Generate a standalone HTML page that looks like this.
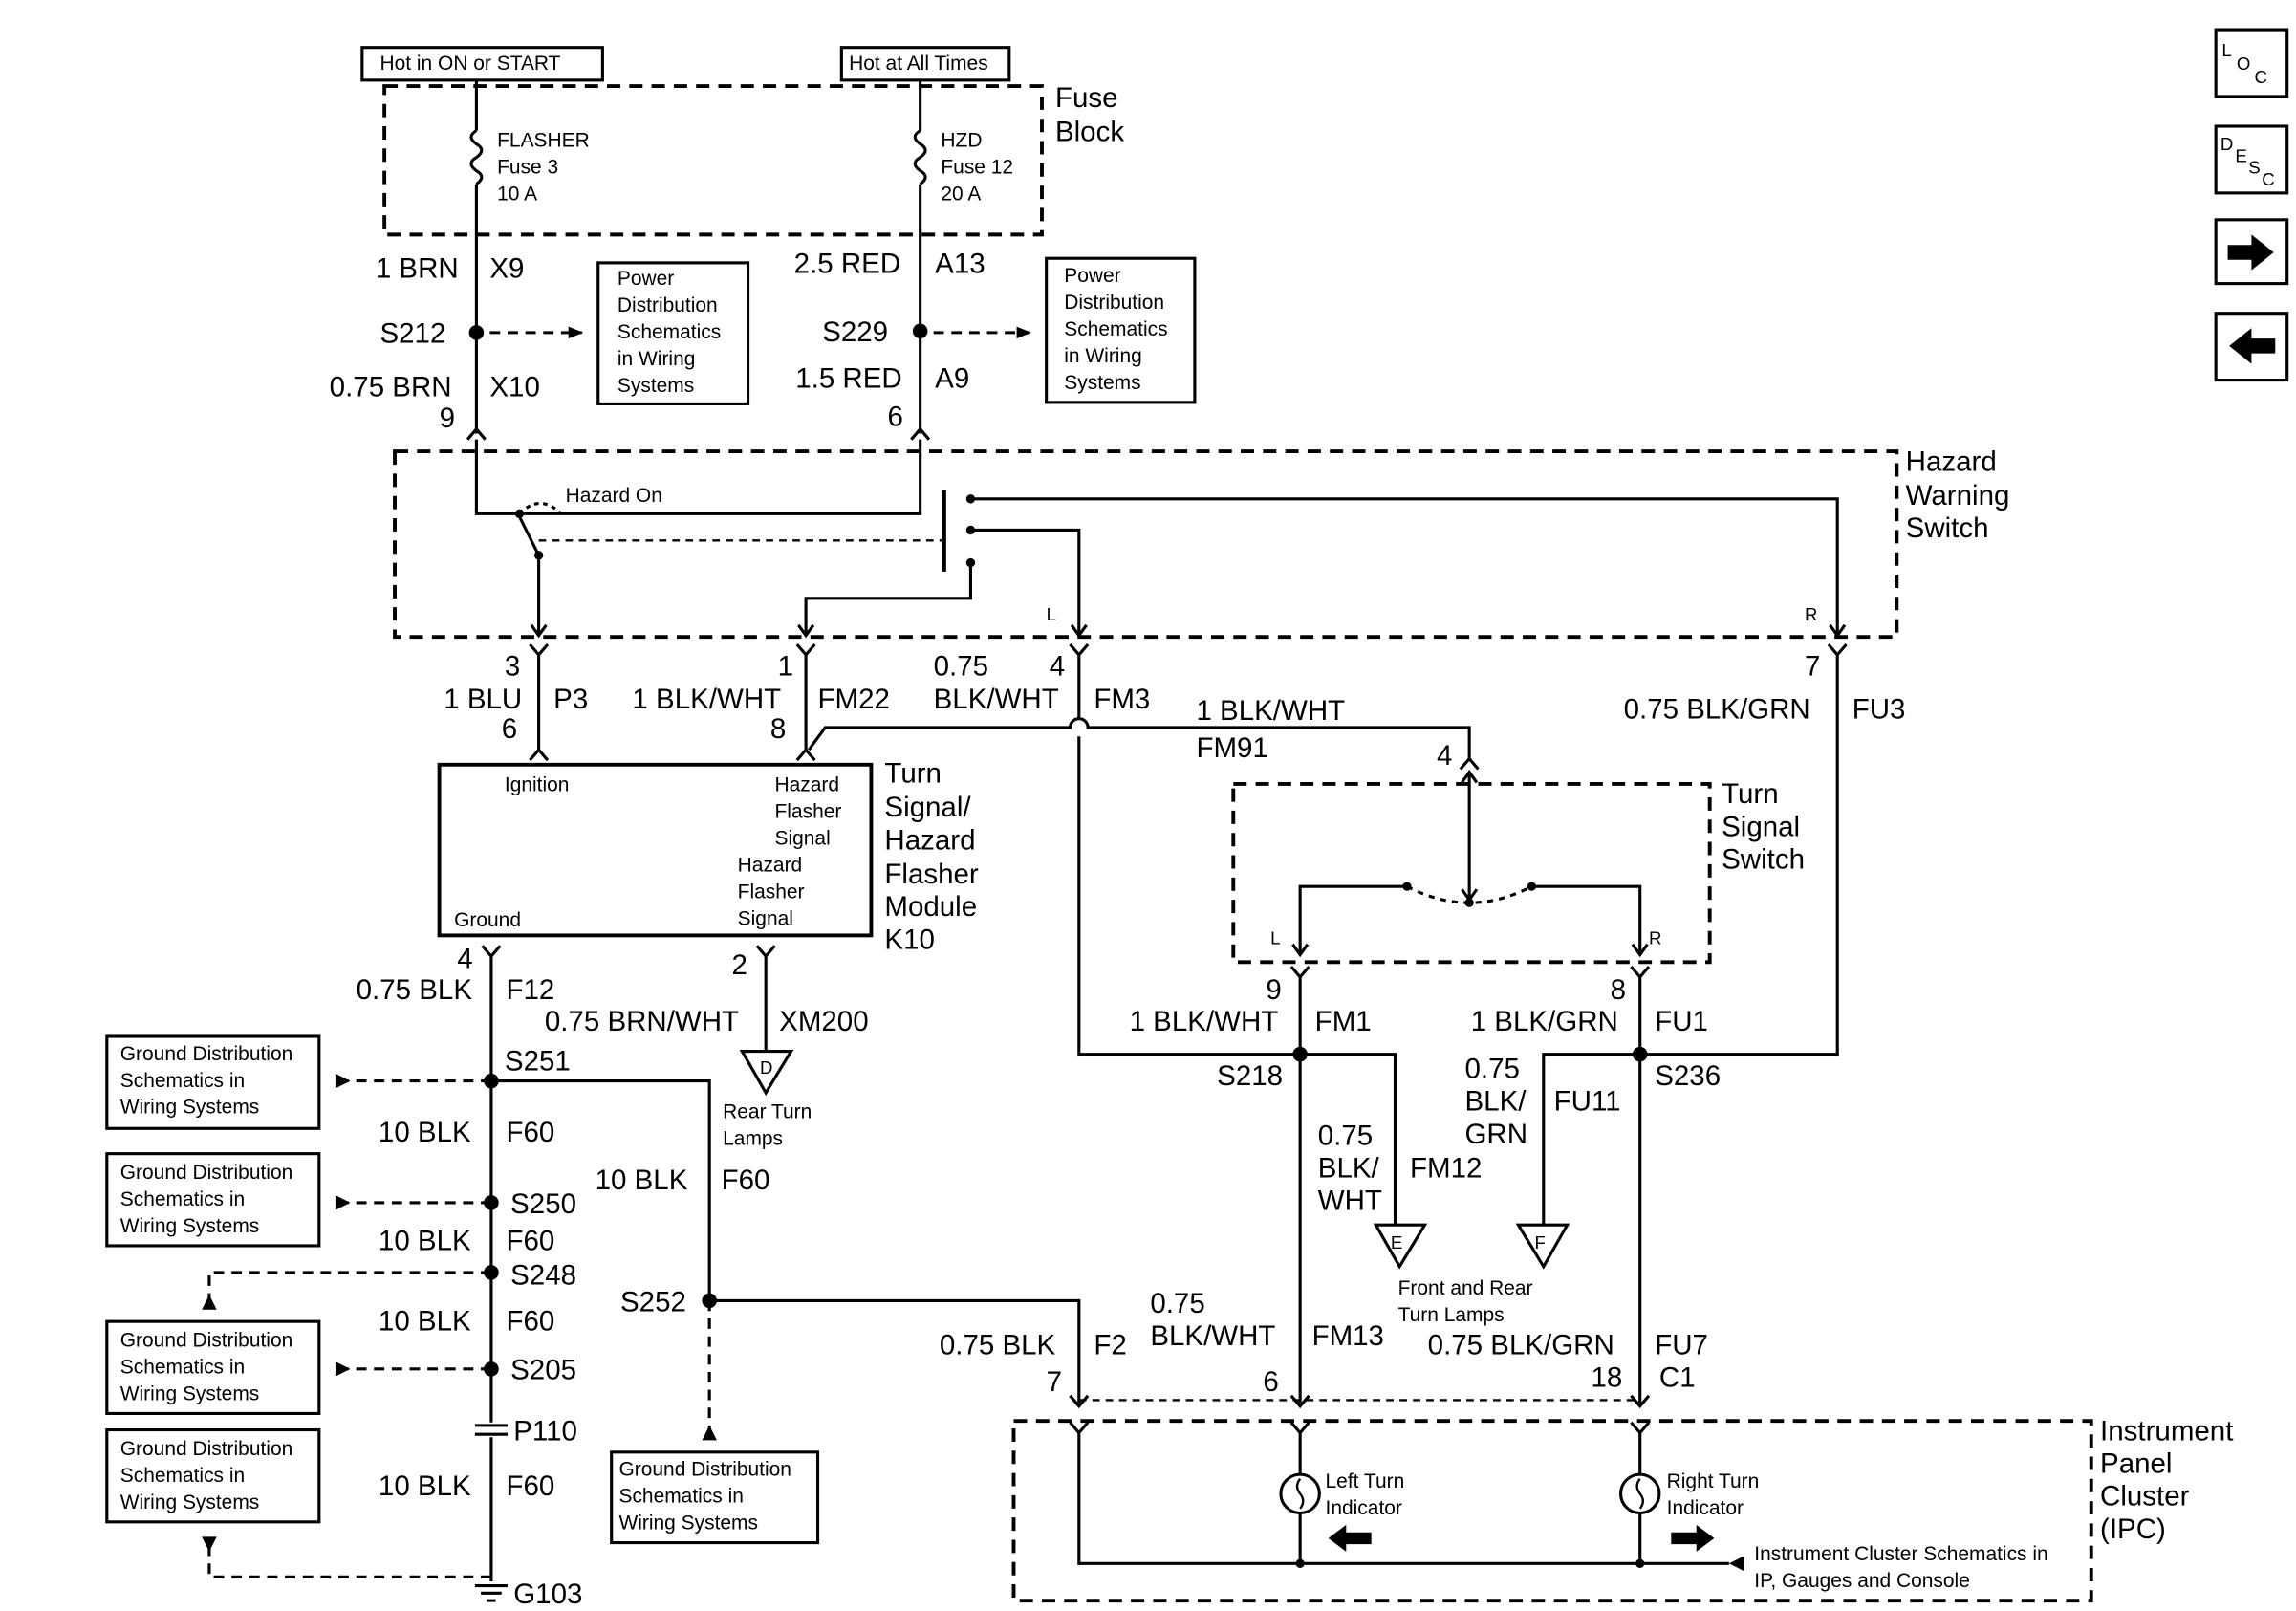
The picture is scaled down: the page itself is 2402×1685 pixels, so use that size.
<!DOCTYPE html>
<html><head><meta charset="utf-8"><style>
html,body{margin:0;padding:0;background:#fff;}
svg{display:block}
text{font-family:"Liberation Sans",sans-serif;fill:#000}
.b{font-size:19px}
.s{font-size:13.5px}
</style></head><body>
<svg width="2402" height="1685" viewBox="0 0 1547 1085" preserveAspectRatio="none" xmlns="http://www.w3.org/2000/svg">
<defs>
<marker id="ah" markerWidth="10" markerHeight="10" refX="9" refY="5" orient="auto" markerUnits="userSpaceOnUse"><path d="M0,1 L10,5 L0,9 Z" fill="#000"/></marker>
</defs>
<g fill="none" stroke="#000" stroke-width="2">
<rect x="244" y="32" width="162" height="22"/>
<rect x="567" y="32" width="113" height="22"/>
<rect x="259" y="58" width="443" height="100" stroke-dasharray="9,6" stroke-width="2.5"/>
<path d="M321,54 V88 M321,124 V292"/>
<path d="M321,88 q-7,4 0,9 q7,4 0,9 q-7,4 0,9 q7,4 0,9"/>
<path d="M620,54 V88 M620,124 V292"/>
<path d="M620,88 q-7,4 0,9 q7,4 0,9 q-7,4 0,9 q7,4 0,9"/>
<path d="M330,224 H392" stroke-dasharray="7,5" marker-end="url(#ah)"/>
<path d="M629,224 H694" stroke-dasharray="7,5" marker-end="url(#ah)"/>
<rect x="403" y="177" width="101" height="95"/>
<rect x="705" y="174" width="100" height="97"/>
<path d="M315,296 L321,289 L327,296"/><path d="M614,296 L620,289 L626,296"/>
<rect x="266" y="304" width="1012" height="125" stroke-dasharray="9,6" stroke-width="2.5"/>
<path d="M321,296 V346 H348 M353,346 H620 V296"/>
<path d="M350,346 q14,-14 28,0" stroke-dasharray="3,3"/>
<path d="M363,374 L350,348"/>
<path d="M363,364 H636" stroke-dasharray="5,4" stroke-width="1.5"/>
<path d="M636,330 V385" stroke-width="3"/>
<path d="M654,336 H1238 V428"/>
<path d="M654,357 H727 V428"/>
<path d="M654,379 V403 H543 V428"/>
<path d="M363,374 V428"/>
<path d="M358,421 L363,428 L368,421 M538,421 L543,428 L548,421 M722,421 L727,428 L732,421 M1233,421 L1238,428 L1243,421"/>
<path d="M357,434 L363,441 L369,434 M537,434 L543,441 L549,434 M721,434 L727,441 L733,434 M1232,434 L1238,441 L1244,434"/>
<path d="M363,441 V506 M357,512 L363,505 L369,512"/>
<path d="M543,441 V506 M537,512 L543,505 L549,512"/>
<path d="M545,505 L556,490 H721 a6,6 0 0 1 12,0 H990 V512"/>
<path d="M727,441 V484 M727,496 V710 H876"/>
<path d="M1238,441 V710 H1105"/>
<rect x="296" y="515" width="291" height="115" stroke-width="2.5"/>
<rect x="831" y="528" width="321" height="120" stroke-dasharray="9,6" stroke-width="2.5"/>
<path d="M984,518 L990,511 L996,518"/>
<path d="M990,520 V606 M985,527 L990,520 L995,527 M985,599 L990,606 L995,599"/>
<path d="M876,642 V597 H946 M1034,597 H1105 V642"/>
<path d="M948,597 q42,22 84,0" stroke-dasharray="4,4"/>
<path d="M871,636 L876,643 L881,636 M1100,636 L1105,643 L1110,636"/>
<path d="M870,651 L876,658 L882,651 M1099,651 L1105,658 L1111,651"/>
<path d="M876,658 V945 M1105,658 V945"/>
<path d="M876,710 H940 V825 M1105,710 H1040 V825"/>
<path d="M927,825 H960 L943,853 Z M1023,825 H1056 L1040,853 Z"/>
<path d="M727,943 H1105" stroke-dasharray="5,4" stroke-width="1.5"/>
<path d="M721,940 L727,947 L733,940 M870,940 L876,947 L882,940 M1099,940 L1105,947 L1111,940"/>
<rect x="683" y="957" width="726" height="121" stroke-dasharray="9,6" stroke-width="2.5"/>
<path d="M721,958 L727,965 L733,958 M870,958 L876,965 L882,958 M1099,958 L1105,965 L1111,958"/>
<path d="M727,965 V1053 H1165 M876,965 V993 M876,1019 V1053 M1105,965 V993 M1105,1019 V1053"/>
<circle cx="876" cy="1006" r="13"/><circle cx="1105" cy="1006" r="13"/>
<path d="M876,996 q-4,5 0,10 q4,5 0,10 M1105,996 q-4,5 0,10 q4,5 0,10" stroke-width="1.5"/>
<path d="M325,637 L331,644 L337,637 M510,637 L516,644 L522,637"/>
<path d="M331,644 V958 M331,968 V1065"/>
<path d="M516,644 V708 M500,708 H533 L516,736 Z"/>
<path d="M331,728 H478 V876 H727 V945"/>
<path d="M478,876 V965" stroke-dasharray="7,5"/>
<rect x="412" y="978" width="139" height="61"/>
<rect x="72" y="698" width="143" height="62"/>
<rect x="72" y="777" width="143" height="62"/>
<rect x="72" y="890" width="143" height="62"/>
<rect x="72" y="963" width="143" height="62"/>
<path d="M331,728 H226 M331,810 H226 M331,922 H226" stroke-dasharray="7,5"/>
<path d="M331,857 H141 V876 M331,1062 H141 V1040" stroke-dasharray="7,5"/>
<path d="M320,1068 H342 M324,1073 H338 M328,1078 H334"/>
<path d="M320,960 H342 M320,966 H342"/>
<rect x="1493" y="20" width="48" height="45"/>
<rect x="1493" y="85" width="48" height="45"/>
<rect x="1493" y="148" width="48" height="43"/>
<rect x="1493" y="211" width="48" height="45"/>
</g>
<g fill="#000">
<circle cx="321" cy="224" r="5"/><circle cx="620" cy="223" r="5"/>
<circle cx="350" cy="346" r="3"/><circle cx="363" cy="374" r="3"/>
<circle cx="654" cy="336" r="3"/><circle cx="654" cy="357" r="3"/><circle cx="654" cy="379" r="3"/>
<circle cx="948" cy="597" r="3"/><circle cx="1032" cy="597" r="3"/><circle cx="990" cy="608" r="3"/>
<circle cx="876" cy="710" r="5"/><circle cx="1105" cy="710" r="5"/>
<circle cx="876" cy="1053" r="3"/><circle cx="1105" cy="1053" r="3"/>
<circle cx="331" cy="728" r="5"/><circle cx="331" cy="810" r="5"/><circle cx="331" cy="857" r="5"/><circle cx="331" cy="922" r="5"/>
<circle cx="478" cy="876" r="5"/>
<path d="M226,723 L236,728 L226,733 Z M226,805 L236,810 L226,815 Z M226,917 L236,922 L226,927 Z"/>
<path d="M136,882 L141,872 L146,882 Z M136,1035 L141,1045 L146,1035 Z M473,970 L478,960 L483,970 Z"/>
<path d="M1165,1048 L1175,1053 L1165,1058 Z" transform="rotate(180 1170 1053)"/>
<path d="M895,1036 L907,1027 V1032 H924 V1040 H907 V1045 Z"/>
<path d="M1155,1036 L1143,1027 V1032 H1126 V1040 H1143 V1045 Z"/>
<path d="M1532,170 L1517,158 V165 H1501 V175 H1517 V182 Z"/>
<path d="M1502,233 L1517,221 V228 H1533 V238 H1517 V245 Z"/>
</g>
<g class="s">
<text x="256" y="47">Hot in ON or START</text>
<text x="572" y="47">Hot at All Times</text>
<text x="335" y="99">FLASHER</text><text x="335" y="117">Fuse 3</text><text x="335" y="135">10 A</text>
<text x="634" y="99">HZD</text><text x="634" y="117">Fuse 12</text><text x="634" y="135">20 A</text>
<text x="416" y="192">Power</text><text x="416" y="210">Distribution</text><text x="416" y="228">Schematics</text><text x="416" y="246">in Wiring</text><text x="416" y="264">Systems</text>
<text x="717" y="190">Power</text><text x="717" y="208">Distribution</text><text x="717" y="226">Schematics</text><text x="717" y="244">in Wiring</text><text x="717" y="262">Systems</text>
<text x="381" y="338">Hazard On</text>
<text x="705" y="418" font-size="12">L</text><text x="1216" y="418" font-size="12">R</text>
<text x="340" y="533">Ignition</text>
<text x="522" y="533">Hazard</text><text x="522" y="551">Flasher</text><text x="522" y="569">Signal</text>
<text x="497" y="587">Hazard</text><text x="497" y="605">Flasher</text><text x="497" y="623">Signal</text>
<text x="306" y="624">Ground</text>
<text x="856" y="636" font-size="12">L</text><text x="1111" y="636" font-size="12">R</text>
<text x="487" y="753">Rear Turn</text><text x="487" y="771">Lamps</text>
<text x="942" y="872">Front and Rear</text><text x="942" y="890">Turn Lamps</text>
<text x="893" y="1002">Left Turn</text><text x="893" y="1020">Indicator</text>
<text x="1123" y="1002">Right Turn</text><text x="1123" y="1020">Indicator</text>
<text x="1182" y="1051">Instrument Cluster Schematics in</text><text x="1182" y="1069">IP, Gauges and Console</text>
<text x="81" y="714">Ground Distribution</text><text x="81" y="732">Schematics in</text><text x="81" y="750">Wiring Systems</text>
<text x="81" y="794">Ground Distribution</text><text x="81" y="812">Schematics in</text><text x="81" y="830">Wiring Systems</text>
<text x="81" y="907">Ground Distribution</text><text x="81" y="925">Schematics in</text><text x="81" y="943">Wiring Systems</text>
<text x="81" y="980">Ground Distribution</text><text x="81" y="998">Schematics in</text><text x="81" y="1016">Wiring Systems</text>
<text x="417" y="994">Ground Distribution</text><text x="417" y="1012">Schematics in</text><text x="417" y="1030">Wiring Systems</text>
<text x="512" y="723" font-size="12">D</text><text x="937" y="841" font-size="12">E</text><text x="1034" y="841" font-size="12">F</text>
<text x="1497" y="38" font-size="12">L</text><text x="1507" y="47" font-size="12">O</text><text x="1519" y="56" font-size="12">C</text>
<text x="1496" y="101" font-size="12">D</text><text x="1506" y="109" font-size="12">E</text><text x="1515" y="117" font-size="12">S</text><text x="1524" y="125" font-size="12">C</text>
</g>
<g class="b">
<text x="711" y="72">Fuse</text><text x="711" y="95">Block</text>
<text x="253" y="187">1 BRN</text><text x="330" y="187">X9</text>
<text x="256" y="231">S212</text>
<text x="222" y="267">0.75 BRN</text><text x="330" y="267">X10</text><text x="296" y="288">9</text>
<text x="535" y="184">2.5 RED</text><text x="630" y="184">A13</text>
<text x="554" y="230">S229</text>
<text x="536" y="261">1.5 RED</text><text x="630" y="261">A9</text><text x="598" y="287">6</text>
<text x="1284" y="317">Hazard</text><text x="1284" y="340">Warning</text><text x="1284" y="362">Switch</text>
<text x="340" y="455">3</text><text x="299" y="477">1 BLU</text><text x="373" y="477">P3</text><text x="338" y="497">6</text>
<text x="524" y="455">1</text><text x="426" y="477">1 BLK/WHT</text><text x="551" y="477">FM22</text><text x="519" y="497">8</text>
<text x="629" y="455">0.75</text><text x="707" y="455">4</text><text x="629" y="477">BLK/WHT</text><text x="737" y="477">FM3</text>
<text x="1216" y="455">7</text><text x="1094" y="484">0.75 BLK/GRN</text><text x="1248" y="484">FU3</text>
<text x="806" y="485">1 BLK/WHT</text><text x="806" y="510">FM91</text><text x="968" y="515">4</text>
<text x="596" y="527">Turn</text><text x="596" y="550">Signal/</text><text x="596" y="572">Hazard</text><text x="596" y="595">Flasher</text><text x="596" y="617">Module</text><text x="596" y="639">K10</text>
<text x="1160" y="541">Turn</text><text x="1160" y="563">Signal</text><text x="1160" y="585">Switch</text>
<text x="853" y="673">9</text><text x="1085" y="673">8</text>
<text x="761" y="694">1 BLK/WHT</text><text x="886" y="694">FM1</text><text x="991" y="694">1 BLK/GRN</text><text x="1115" y="694">FU1</text>
<text x="820" y="731">S218</text><text x="1115" y="731">S236</text>
<text x="888" y="771">0.75</text><text x="888" y="793">BLK/</text><text x="888" y="815">WHT</text><text x="950" y="793">FM12</text>
<text x="987" y="726">0.75</text><text x="987" y="748">BLK/</text><text x="987" y="770">GRN</text><text x="1047" y="748">FU11</text>
<text x="775" y="884">0.75</text><text x="775" y="906">BLK/WHT</text><text x="884" y="906">FM13</text><text x="851" y="937">6</text>
<text x="962" y="912">0.75 BLK/GRN</text><text x="1115" y="912">FU7</text><text x="1072" y="934">18</text><text x="1118" y="934">C1</text>
<text x="633" y="912">0.75 BLK</text><text x="737" y="912">F2</text><text x="705" y="937">7</text>
<text x="1415" y="970">Instrument</text><text x="1415" y="992">Panel</text><text x="1415" y="1014">Cluster</text><text x="1415" y="1036">(IPC)</text>
<text x="308" y="652">4</text><text x="240" y="673">0.75 BLK</text><text x="341" y="673">F12</text>
<text x="493" y="656">2</text><text x="367" y="694">0.75 BRN/WHT</text><text x="525" y="694">XM200</text>
<text x="340" y="721">S251</text>
<text x="255" y="769">10 BLK</text><text x="341" y="769">F60</text>
<text x="401" y="801">10 BLK</text><text x="486" y="801">F60</text>
<text x="344" y="817">S250</text>
<text x="255" y="842">10 BLK</text><text x="341" y="842">F60</text>
<text x="344" y="865">S248</text>
<text x="418" y="883">S252</text>
<text x="255" y="896">10 BLK</text><text x="341" y="896">F60</text>
<text x="344" y="929">S205</text>
<text x="346" y="970">P110</text>
<text x="255" y="1007">10 BLK</text><text x="341" y="1007">F60</text>
<text x="346" y="1080">G103</text>
</g>
</svg>
</body></html>
